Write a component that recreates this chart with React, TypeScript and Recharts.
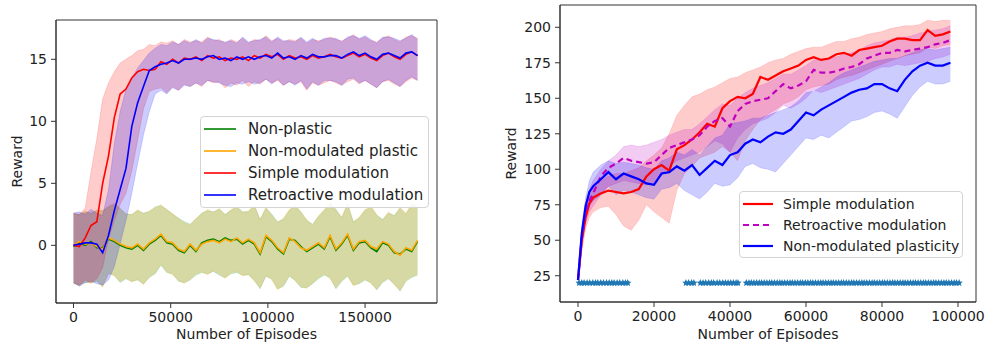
import React from "react";
import { ComposedChart, Line, Area, Scatter, XAxis, YAxis, Legend, ReferenceArea } from "recharts";

const FONT = "'DejaVu Sans', sans-serif";

// ---- left panel: reward vs episodes (4 variants) ----
const LEFT_EPISODES = [
  0, 3000, 6000, 9000, 12000, 15000, 18000, 21000, 24000, 27000,
  30000, 33000, 36000, 39000, 42000, 45000, 48000, 51000, 54000, 57000,
  60000, 63000, 66000, 69000, 72000, 75000, 78000, 81000, 84000, 87000,
  90000, 93000, 96000, 99000, 102000, 105000, 108000, 111000, 114000, 117000,
  120000, 123000, 126000, 129000, 132000, 135000, 138000, 141000, 144000, 147000,
  150000, 153000, 156000, 159000, 162000, 165000, 168000, 171000, 174000, 177000,
];

const NP_MEAN = [
  -0.1, 0.2, 0.0, 0.3, -0.2, -0.2, 0.5, 0.3, 0.0, -0.2,
  -0.3, 0.0, -0.4, 0.1, 0.4, 0.8, 0.2, 0.1, -0.4, -0.6,
  0.0, -0.5, 0.2, 0.4, 0.5, 0.3, 0.6, 0.4, 0.5, 0.1,
  0.4, 0.1, -0.7, 0.7, 0.3, -0.3, -0.7, 0.5, 0.4, -0.1,
  -0.5, -0.2, 0.1, -0.3, 0.7, -0.4, 0.1, 0.8, -0.4, 0.2,
  0.3, -0.2, -0.5, 0.2, 0.0, -0.6, -0.7, -0.3, -0.5, 0.3,
];
const NP_HIGH = [
  2.5, 2.5, 2.7, 2.6, 2.8, 2.8, 3.1, 3.3, 3.0, 2.5,
  2.5, 2.8, 2.6, 2.7, 3.1, 3.2, 2.9, 2.5, 2.2, 1.9,
  1.7, 2.1, 2.6, 2.8, 2.7, 2.9, 2.5, 2.8, 3.1, 2.7,
  2.7, 3.2, 2.1, 3.0, 2.5, 1.9, 2.1, 2.8, 3.2, 2.7,
  2.0, 1.7, 2.3, 2.8, 3.4, 2.9, 2.2, 3.3, 1.9, 2.2,
  2.8, 3.1, 2.4, 2.1, 2.6, 2.4, 3.0, 2.5, 3.3, 3.1,
];
const NP_LOW = [
  -3.1, -3.2, -3.0, -3.0, -2.9, -3.3, -2.3, -2.4, -3.0, -2.7,
  -2.9, -2.8, -3.1, -2.6, -2.3, -1.6, -2.2, -2.3, -2.9, -3.0,
  -2.8, -2.4, -2.2, -2.3, -2.1, -2.4, -2.6, -2.3, -2.2, -2.4,
  -2.4, -2.8, -3.5, -2.5, -2.7, -3.5, -3.3, -2.5, -2.8, -3.4,
  -3.4, -3.1, -2.7, -2.4, -2.6, -3.5, -2.9, -2.5, -3.2, -3.1,
  -2.8, -3.0, -3.6, -3.0, -2.7, -3.1, -3.7, -2.9, -2.6, -2.4,
];

const NMP_MEAN = [
  0.0, 0.3, 0.1, 0.2, -0.1, -0.3, 0.6, 0.4, 0.1, -0.1,
  -0.2, 0.1, -0.3, 0.2, 0.5, 0.9, 0.3, 0.2, -0.3, -0.5,
  0.1, -0.4, 0.1, 0.3, 0.4, 0.2, 0.5, 0.3, 0.6, 0.2,
  0.5, 0.2, -0.6, 0.8, 0.4, -0.2, -0.6, 0.6, 0.3, -0.2,
  -0.4, -0.1, 0.2, -0.2, 0.8, -0.3, 0.2, 0.9, -0.3, 0.3,
  0.4, -0.1, -0.3, 0.3, 0.1, -0.5, -0.8, -0.2, -0.4, 0.4,
];
const NMP_HIGH = [
  2.6, 2.4, 2.8, 2.5, 2.9, 2.7, 3.2, 3.4, 2.9, 2.6,
  2.4, 2.9, 2.5, 2.8, 3.0, 3.3, 2.8, 2.6, 2.1, 1.8,
  1.6, 2.2, 2.5, 2.9, 2.6, 3.0, 2.4, 2.9, 3.2, 2.6,
  2.8, 3.3, 2.0, 3.1, 2.4, 1.8, 2.2, 2.9, 3.3, 2.6,
  2.1, 1.6, 2.4, 2.9, 3.5, 2.8, 2.3, 3.4, 1.8, 2.3,
  2.9, 3.2, 2.5, 2.0, 2.7, 2.3, 3.1, 2.6, 3.4, 3.2,
];
const NMP_LOW = [
  -3.0, -3.3, -2.9, -3.1, -2.8, -3.4, -2.2, -2.5, -2.9, -2.6,
  -3.0, -2.7, -3.2, -2.5, -2.2, -1.5, -2.1, -2.4, -2.8, -3.1,
  -2.7, -2.3, -2.1, -2.4, -2.0, -2.3, -2.7, -2.2, -2.1, -2.5,
  -2.3, -2.9, -3.4, -2.4, -2.8, -3.6, -3.2, -2.4, -2.9, -3.3,
  -3.5, -3.0, -2.6, -2.3, -2.7, -3.4, -2.8, -2.4, -3.3, -3.0,
  -2.7, -3.1, -3.5, -2.9, -2.6, -3.2, -3.6, -2.8, -2.5, -2.3,
];

const SM_MEAN = [
  0.0, -0.1, 0.6, 1.6, 1.9, 5.0, 7.2, 10.3, 12.2, 12.6,
  13.5, 14.0, 14.2, 14.1, 14.2, 14.8, 14.6, 15.0, 14.7, 15.1,
  15.0, 15.2, 14.9, 15.3, 15.1, 15.2, 14.9, 15.1, 15.0, 15.2,
  14.9, 15.3, 15.1, 15.4, 15.2, 15.4, 15.0, 15.3, 15.1, 15.2,
  15.0, 15.3, 15.1, 15.2, 15.4, 15.2, 15.1, 15.3, 15.5, 15.2,
  15.4, 15.1, 14.9, 15.3, 15.5, 15.2, 15.0, 15.4, 15.6, 15.3,
];
const SM_HIGH = [
  2.6, 2.5, 3.0, 5.9, 8.6, 11.8, 13.1, 14.0, 14.7, 15.0,
  15.3, 15.7, 15.8, 16.2, 16.1, 16.4, 16.3, 16.5, 16.2, 16.6,
  16.4, 16.5, 16.4, 16.8, 16.5, 16.6, 16.3, 16.6, 16.4, 16.7,
  16.3, 16.6, 16.5, 16.9, 16.5, 16.7, 16.4, 16.6, 16.5, 16.7,
  16.3, 16.6, 16.5, 16.6, 16.8, 16.6, 16.5, 16.7, 17.0, 16.6,
  16.8, 16.5, 16.4, 16.7, 16.9, 16.6, 16.4, 16.8, 16.9, 16.7,
];
const SM_LOW = [
  -3.0, -3.2, -2.8, -3.0, -2.7, -1.8, 0.5, 2.0, 3.3, 4.2,
  6.0, 8.5, 11.0, 12.4, 12.6, 12.7, 12.3, 12.8, 12.5, 13.0,
  12.8, 13.1, 12.8, 13.3, 13.1, 13.2, 12.7, 13.1, 12.9, 13.3,
  12.8, 13.2, 13.0, 13.4, 13.1, 13.3, 12.9, 13.2, 13.0, 13.2,
  12.5, 13.1, 12.9, 13.1, 13.3, 13.1, 12.9, 13.2, 13.4, 13.0,
  13.3, 13.0, 12.7, 13.2, 13.3, 13.0, 12.8, 13.2, 13.5, 13.3,
];

const RM_MEAN = [
  0.0, 0.1, 0.2, 0.2, 0.1, -0.6, 0.8, 2.8, 4.5, 6.2,
  9.6, 11.5, 12.8, 14.1, 14.4, 14.6, 14.7, 14.9, 14.7, 15.0,
  15.0, 15.1, 15.0, 15.2, 15.3, 15.0, 15.1, 14.9, 15.2, 15.0,
  15.2, 15.0, 15.2, 15.3, 15.1, 15.5, 15.1, 15.2, 15.0, 15.3,
  15.1, 15.4, 15.2, 15.2, 15.3, 15.3, 15.1, 15.4, 15.6, 15.3,
  15.5, 15.2, 15.0, 15.4, 15.5, 15.3, 15.1, 15.5, 15.6, 15.3,
];
const RM_HIGH = [
  2.6, 2.7, 2.5, 2.9, 2.6, 2.4, 4.5, 8.2, 10.8, 12.6,
  13.5, 14.3, 14.9, 15.5, 15.9, 16.2, 16.1, 16.4, 16.2, 16.5,
  16.3, 16.6, 16.3, 16.7, 16.6, 16.5, 16.4, 16.5, 16.3, 16.8,
  16.4, 16.5, 16.6, 16.8, 16.4, 16.8, 16.5, 16.5, 16.4, 16.8,
  16.4, 16.7, 16.4, 16.7, 16.7, 16.7, 16.4, 16.8, 16.9, 16.7,
  16.9, 16.6, 16.3, 16.8, 16.8, 16.7, 16.5, 16.7, 17.0, 16.6,
];
const RM_LOW = [
  -3.0, -3.3, -3.0, -2.9, -3.1, -3.2, -2.8, -1.7, 0.1, 2.0,
  4.2, 6.6, 8.9, 10.8, 12.2, 12.5, 12.2, 12.7, 12.5, 12.9,
  12.8, 13.1, 12.9, 13.3, 13.2, 13.1, 12.9, 12.8, 13.1, 13.0,
  13.2, 13.0, 13.1, 13.4, 13.0, 13.4, 12.9, 13.2, 12.9, 13.3,
  12.6, 13.2, 12.9, 13.3, 13.3, 13.2, 12.9, 13.4, 13.5, 13.1,
  13.3, 13.0, 12.7, 13.2, 13.4, 13.1, 12.8, 13.3, 13.6, 13.3,
];

// ---- right panel ----
const RIGHT_EPISODES = [
  0, 1000, 2000, 3000, 4000, 6000, 8000, 10000, 12000, 14000,
  16000, 18000, 20000, 22000, 24000, 26000, 28000, 30000, 32000, 34000,
  36000, 38000, 40000, 42000, 44000, 46000, 48000, 50000, 52000, 54000,
  56000, 58000, 60000, 62000, 64000, 66000, 68000, 70000, 72000, 74000,
  76000, 78000, 80000, 82000, 84000, 86000, 88000, 90000, 92000, 94000,
  96000, 98000,
];

const SIMPLE_MEAN = [
  22, 50, 66, 76, 80, 83, 85, 84, 83, 84,
  86, 95, 100, 103, 99, 114, 117, 121, 126, 132,
  130, 143, 148, 151, 150, 153, 165, 163, 166, 169,
  171, 173, 177, 179, 177, 178, 181, 182, 180, 184,
  185, 186, 187, 190, 192, 192, 191, 191, 198, 194,
  195, 197,
];
const SIMPLE_HIGH = [
  24, 55, 70, 80, 86, 92, 95, 97, 97, 99,
  101, 106, 110, 115, 125, 138, 145, 151, 153, 156,
  158, 161, 164, 165, 168, 170, 172, 175, 177, 178,
  181, 183, 185, 186, 186, 188, 190, 190, 192, 193,
  195, 196, 197, 199, 200, 201, 201, 202, 205, 204,
  205, 205,
];
const SIMPLE_LOW = [
  18, 42, 58, 66, 70, 73, 74, 68, 60, 57,
  64, 75, 70, 66, 62, 85, 97, 102, 108, 110,
  112, 116, 112, 106, 120, 128, 135, 139, 142, 146,
  148, 151, 156, 158, 159, 160, 163, 165, 166, 168,
  170, 172, 174, 176, 178, 180, 181, 182, 186, 185,
  187, 188,
];

const RETRO_MEAN = [
  22, 52, 70, 78, 83, 95, 101, 104, 108, 106,
  105, 104, 105, 110, 115, 117, 119, 121, 124, 130,
  134, 136, 130, 141, 146, 148, 149, 150, 155, 160,
  157, 159, 162, 170, 168, 168, 169, 171, 172, 174,
  178, 180, 182, 182, 184, 183, 184, 185, 186, 188,
  189, 191,
];
const RETRO_HIGH = [
  23, 56, 76, 86, 92, 100, 106, 110, 116, 117,
  116, 117, 119, 121, 124, 126, 128, 128, 132, 137,
  142, 146, 145, 150, 154, 157, 159, 161, 164, 167,
  167, 170, 173, 177, 177, 178, 179, 181, 182, 184,
  187, 189, 190, 191, 193, 193, 194, 196, 197, 198,
  199, 201,
];
const RETRO_LOW = [
  21, 46, 62, 70, 74, 82, 88, 90, 92, 91,
  90, 89, 90, 96, 102, 106, 108, 110, 112, 116,
  120, 118, 112, 122, 128, 132, 134, 136, 140, 145,
  143, 146, 150, 156, 154, 156, 158, 160, 162, 164,
  167, 170, 172, 172, 174, 173, 174, 175, 176, 178,
  179, 181,
];

const NONMOD_MEAN = [
  22, 55, 74, 84, 88, 93, 98, 93, 97, 95,
  93, 90, 89, 97, 98, 102, 99, 103, 96, 101,
  106, 103, 110, 112, 118, 121, 119, 123, 126, 125,
  128, 134, 140, 138, 142, 145, 148, 151, 154, 156,
  157, 160, 160, 157, 155, 163, 169, 173, 175, 173,
  173, 175,
];
const NONMOD_HIGH = [
  23, 60, 80, 92, 98, 103, 106, 104, 105, 104,
  103, 101, 100, 106, 108, 112, 110, 114, 110, 116,
  122, 124, 132, 133, 134, 136, 136, 138, 140, 142,
  144, 148, 154, 155, 158, 161, 165, 168, 170, 172,
  174, 176, 177, 178, 178, 180, 182, 184, 185, 184,
  185, 186,
];
const NONMOD_LOW = [
  20, 48, 66, 74, 78, 82, 88, 82, 85, 84,
  82, 80, 79, 86, 87, 90, 85, 82, 79, 84,
  90, 88, 89, 94, 102, 104, 101, 100, 98, 104,
  110, 116, 122, 121, 124, 122, 126, 130, 134, 135,
  137, 140, 141, 139, 136, 144, 152, 158, 162, 160,
  160, 162,
];

// episodes flagged at reward level 20 (star markers)
const MARKER_LEVEL = 20;
const MARKER_EPISODES = [
  300, 1000, 1600, 2400, 3100, 3900, 4600, 5200, 6000, 6700,
  7500, 8200, 8900, 9500, 10300, 11000, 11800, 12500, 13100,
  28400, 29100, 29900, 30500, 32200, 32900, 33600, 34400, 35100, 35700,
  36600, 37300, 38100, 38800, 39500, 40200, 40900, 41600, 42100,
  44300, 45000, 45600, 46300, 47000, 47700, 48300, 49000, 49700, 50400,
  51000, 51700, 52400, 53100, 53700, 54400, 55100, 55800, 56400, 57100,
  57800, 58500, 59100, 59800, 60500, 61200, 61800, 62500, 63200, 63900,
  64500, 65200, 65900, 66600, 67200, 67900, 68600, 69300, 69900, 70600,
  71300, 72000, 72600, 73300, 74000, 74700, 75300, 76000, 76700, 77400,
  78000, 78700, 79400, 80100, 80700, 81400, 82100, 82800, 83400, 84100,
  84800, 85500, 86100, 86800, 87500, 88200, 88800, 89500, 90200, 90900,
  91500, 92200, 92900, 93600, 94200, 94900, 95600, 96300, 96900, 97600,
  98300, 99000, 99600, 100300,
];

const LEFT_SERIES = [
  { name: "Non-plastic", key: "np", color: "#008000" },
  { name: "Non-modulated plastic", key: "nmp", color: "#ffa500" },
  { name: "Simple modulation", key: "sm", color: "#ff0000" },
  { name: "Retroactive modulation", key: "rm", color: "#0000ff" },
];
const RIGHT_SERIES = [
  { name: "Simple modulation", key: "simple", color: "#ff0000", dash: undefined },
  { name: "Retroactive modulation", key: "retro", color: "#bf00bf", dash: "6 4" },
  { name: "Non-modulated plasticity", key: "nonmod", color: "#0000ff", dash: undefined },
];

const LEFT_X_DOMAIN: [number, number] = [-9000, 187000];
const LEFT_Y_DOMAIN: [number, number] = [-4.65, 18.17];
const RIGHT_X_DOMAIN: [number, number] = [-4737, 104737];
const RIGHT_Y_DOMAIN: [number, number] = [6.5, 215.7];

const leftRows = LEFT_EPISODES.map((ep, i) => ({
  ep,
  np: NP_MEAN[i], npBand: [NP_LOW[i], NP_HIGH[i]],
  nmp: NMP_MEAN[i], nmpBand: [NMP_LOW[i], NMP_HIGH[i]],
  sm: SM_MEAN[i], smBand: [SM_LOW[i], SM_HIGH[i]],
  rm: RM_MEAN[i], rmBand: [RM_LOW[i], RM_HIGH[i]],
}));

const rightRows = RIGHT_EPISODES.map((ep, i) => ({
  ep,
  simple: SIMPLE_MEAN[i], simpleBand: [SIMPLE_LOW[i], SIMPLE_HIGH[i]],
  retro: RETRO_MEAN[i], retroBand: [RETRO_LOW[i], RETRO_HIGH[i]],
  nonmod: NONMOD_MEAN[i], nonmodBand: [NONMOD_LOW[i], NONMOD_HIGH[i]],
}));

const markerRows = MARKER_EPISODES.map((ep) => ({ ep, level: MARKER_LEVEL }));

const AXIS = "#333";
const TEXT = "#222";
const tickStyle = { fill: TEXT, fontSize: 14 };

const StarMarker = (props: any) => {
  const { cx, cy, fill } = props;
  if (cx == null || cy == null) return null;
  const pts: string[] = [];
  for (let k = 0; k < 10; k++) {
    const r = k % 2 === 0 ? 3.8 : 1.8;
    const a = -Math.PI / 2 + (k * Math.PI) / 5;
    pts.push(`${cx + r * Math.cos(a)},${cy + r * Math.sin(a)}`);
  }
  return <polygon points={pts.join(" ")} fill={fill} />;
};

type LegendItem = { name: string; color: string; dash?: string };

const LegendBox = ({ items, fontSize, rowHeight, lineLen, lineWidth, gap }: {
  items: LegendItem[]; fontSize: number; rowHeight: number; lineLen: number; lineWidth: number; gap: number;
}) => (
  <div
    style={{
      boxSizing: "border-box",
      background: "rgba(255,255,255,0.85)",
      border: "1px solid #d4d4d4",
      borderRadius: 4,
      padding: "1px 4px 1px 3px",
      fontFamily: FONT,
      fontSize,
      color: TEXT,
    }}
  >
    {items.map((it) => (
      <div key={it.name} style={{ display: "flex", alignItems: "center", height: rowHeight }}>
        <svg width={lineLen} height={6} style={{ marginRight: gap, flex: "none" }}>
          <line x1={0} y1={3} x2={lineLen} y2={3} stroke={it.color} strokeWidth={lineWidth} strokeDasharray={it.dash} />
        </svg>
        <span style={{ whiteSpace: "nowrap" }}>{it.name}</span>
      </div>
    ))}
  </div>
);

// full plot frame (matplotlib-style box on all four sides)
const Frame = ({ x, y }: { x: [number, number]; y: [number, number] }) => (
  <ReferenceArea x1={x[0]} x2={x[1]} y1={y[0]} y2={y[1]} fill="none" stroke={AXIS} strokeWidth={1} ifOverflow="visible" />
);

const LeftPanel = () => (
  <ComposedChart width={440} height={343} data={leftRows} margin={{ top: 20, right: 3, bottom: 0, left: 8 }}>
    <XAxis
      dataKey="ep" type="number" domain={LEFT_X_DOMAIN} ticks={[0, 50000, 100000, 150000]}
      allowDataOverflow height={40} stroke={AXIS} tickSize={5} tickMargin={4} tick={tickStyle}
      label={{ value: "Number of Episodes", position: "insideBottom", offset: 4, style: { fill: TEXT, fontSize: 14 } }}
    />
    <YAxis
      type="number" domain={LEFT_Y_DOMAIN} ticks={[0, 5, 10, 15]} allowDataOverflow width={48}
      stroke={AXIS} tickSize={5} tickMargin={4} tick={tickStyle}
      label={{ value: "Reward", angle: -90, position: "insideLeft", offset: 9, style: { textAnchor: "middle", fill: TEXT, fontSize: 14 } }}
    />
    {LEFT_SERIES.map((s) => (
      <Area
        key={s.key + "Band"} type="linear" dataKey={s.key + "Band"} fill={s.color} fillOpacity={0.2}
        stroke={s.color} strokeOpacity={0.15} strokeWidth={1} activeDot={false} isAnimationActive={false}
      />
    ))}
    {LEFT_SERIES.map((s) => (
      <Line
        key={s.key} type="linear" dataKey={s.key} stroke={s.color} strokeWidth={1.6}
        dot={false} activeDot={false} isAnimationActive={false}
      />
    ))}
    {Frame({ x: LEFT_X_DOMAIN, y: LEFT_Y_DOMAIN })}
    <Legend
      layout="vertical" align="center" verticalAlign="middle"
      wrapperStyle={{ left: 200, top: 116, width: 229 }}
      content={() => (
        <LegendBox items={LEFT_SERIES} fontSize={15} rowHeight={22} lineLen={32} lineWidth={1.6} gap={12} />
      )}
    />
  </ComposedChart>
);

const RightPanel = () => (
  <ComposedChart width={495} height={343} data={rightRows} margin={{ top: 5, right: 9, bottom: 0, left: 8 }}>
    <XAxis
      dataKey="ep" type="number" domain={RIGHT_X_DOMAIN} ticks={[0, 20000, 40000, 60000, 80000, 100000]}
      allowDataOverflow height={41} stroke={AXIS} tickSize={5} tickMargin={4} tick={tickStyle}
      label={{ value: "Number of Episodes", position: "insideBottom", offset: 4, style: { fill: TEXT, fontSize: 14 } }}
    />
    <YAxis
      type="number" domain={RIGHT_Y_DOMAIN} ticks={[25, 50, 75, 100, 125, 150, 175, 200]} allowDataOverflow width={62}
      stroke={AXIS} tickSize={5} tickMargin={4} tick={tickStyle}
      label={{ value: "Reward", angle: -90, position: "insideLeft", offset: 13, style: { textAnchor: "middle", fill: TEXT, fontSize: 14 } }}
    />
    {RIGHT_SERIES.map((s) => (
      <Area
        key={s.key + "Band"} type="linear" dataKey={s.key + "Band"} fill={s.color} fillOpacity={0.2}
        stroke={s.color} strokeOpacity={0.12} strokeWidth={1} activeDot={false} isAnimationActive={false}
      />
    ))}
    <Scatter data={markerRows} dataKey="level" fill="#1f77b4" shape={StarMarker} isAnimationActive={false} />
    {RIGHT_SERIES.map((s) => (
      <Line
        key={s.key} type="linear" dataKey={s.key} stroke={s.color} strokeWidth={2.2} strokeDasharray={s.dash}
        dot={false} activeDot={false} isAnimationActive={false}
      />
    ))}
    {Frame({ x: RIGHT_X_DOMAIN, y: RIGHT_Y_DOMAIN })}
    <Legend
      layout="vertical" align="center" verticalAlign="middle"
      wrapperStyle={{ left: 249, top: 191, width: 224 }}
      content={() => (
        <LegendBox items={RIGHT_SERIES} fontSize={14} rowHeight={21} lineLen={30} lineWidth={2.2} gap={10} />
      )}
    />
  </ComposedChart>
);

export default function App() {
  return (
    <div style={{ position: "absolute", left: 0, top: 0, width: 985, height: 343, background: "#fff", fontFamily: FONT }}>
      <div style={{ position: "absolute", left: 0, top: 0 }}>
        <LeftPanel />
      </div>
      <div style={{ position: "absolute", left: 490, top: 0 }}>
        <RightPanel />
      </div>
    </div>
  );
}
